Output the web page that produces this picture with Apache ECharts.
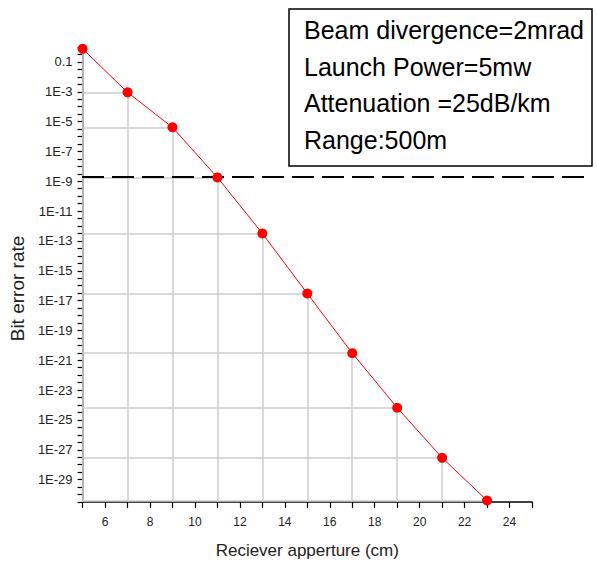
<!DOCTYPE html>
<html><head><meta charset="utf-8">
<script src="https://cdn.jsdelivr.net/npm/echarts@6/dist/echarts.min.js"></script>
<style>html,body{margin:0;padding:0;background:#fff}#c{width:597px;height:566px}</style>
</head><body><div id="c"></div>
<script>
// ---- data ----
const aperture = [5, 7, 9, 11, 13, 15, 17, 19, 21, 23];
const ber = [0.75, 9.1e-4, 4.1e-6, 1.8e-9, 3.2e-13, 3.0e-17, 3.0e-21, 6.6e-25, 2.9e-28, 4.0e-31];
const thresholdBER = 2e-9;
const xRange = [5, 25];
const yLogRange = [-30.5, 0];
const infoLines = ['Beam divergence=2mrad', 'Launch Power=5mw', 'Attenuation =25dB/km', 'Range:500m'];
const xTitle = 'Reciever apperture (cm)';
const yTitle = 'Bit error rate';

// ---- build ----
const FONT = 'Liberation Sans, Arial, sans-serif';
const logBer = ber.map(v => Math.log10(v));
const points = aperture.map((x, i) => [x, logBer[i]]);
const dropLines = [];
points.forEach(p => {
  dropLines.push([{ coord: [p[0], yLogRange[0]] }, { coord: [p[0], p[1]] }]);
  dropLines.push([{ coord: [xRange[0], p[1]] }, { coord: [p[0], p[1]] }]);
});

const chart = echarts.init(document.getElementById('c'), null, { renderer: 'svg' });
chart.setOption({
  animation: false,
  backgroundColor: '#fff',
  grid: [
    { left: 82, right: 65, top: 47, bottom: 64 },
    { left: 82, right: 11, top: 47, bottom: 64 }
  ],
  xAxis: [{
    type: 'value', gridIndex: 0, min: xRange[0], max: xRange[1], interval: 1,
    name: xTitle, nameLocation: 'middle', nameGap: 40,
    nameTextStyle: { fontFamily: FONT, fontSize: 17, color: '#222' },
    axisLine: { show: true, onZero: false, lineStyle: { color: '#000', width: 1.5 } },
    axisTick: { show: true, length: 6, lineStyle: { color: '#000', width: 1.2 } },
    axisLabel: { margin: 14, fontFamily: FONT, fontSize: 12, color: '#222',
      formatter: v => (Math.round(v) % 2 === 0 ? String(Math.round(v)) : '') },
    splitLine: { show: false }
  }, {
    type: 'value', gridIndex: 1, min: 0, max: 1, show: false,
    axisLine: { show: false, onZero: false }
  }],
  yAxis: [{
    type: 'value', gridIndex: 0, min: yLogRange[0], max: yLogRange[1], interval: 0.5,
    name: yTitle, nameLocation: 'middle', nameGap: 54, nameRotate: 90,
    nameTextStyle: { fontFamily: FONT, fontSize: 19, color: '#222', padding: [0, 28, 0, 0] },
    axisLine: { show: true, onZero: false, lineStyle: { color: '#333', width: 1.5 } },
    axisTick: { show: true, length: 5, lineStyle: { color: '#000', width: 1.2 } },
    axisLabel: { margin: 10, fontFamily: FONT, fontSize: 13, color: '#222',
      formatter: v => {
        if (Math.abs(v - Math.round(v)) > 1e-9) return '';
        const n = Math.round(v);
        if (n % 2 === 0) return '';
        return n === -1 ? '0.1' : '1E' + n;
      } },
    splitLine: { show: false }
  }, {
    type: 'value', gridIndex: 1, min: yLogRange[0], max: yLogRange[1], show: false,
    axisLine: { show: false, onZero: false }
  }],
  graphic: [{
    type: 'group',
    children: [{
      type: 'rect', shape: { x: 289, y: 9, width: 303, height: 157 },
      style: { fill: '#fff', stroke: '#000', lineWidth: 1.5 }
    }].concat(infoLines.map((t, i) => ({
      type: 'text', x: 304, y: 30 + i * 36.6,
      style: { text: t, fill: '#000', font: '25px ' + FONT, verticalAlign: 'middle' }
    })))
  }],
  series: [{
    type: 'line', xAxisIndex: 0, yAxisIndex: 0, data: [], z: 1, silent: true,
    markLine: {
      silent: true, symbol: 'none', animation: false,
      label: { show: false },
      lineStyle: { color: '#cccccc', width: 1.5, type: 'solid' },
      data: dropLines
    }
  }, {
    type: 'line', xAxisIndex: 1, yAxisIndex: 1, data: [], z: 2, silent: true,
    markLine: {
      silent: true, symbol: 'none', animation: false,
      label: { show: false },
      lineStyle: { color: '#000', width: 2, type: [22, 8] },
      data: [{ yAxis: Math.log10(thresholdBER) }]
    }
  }, {
    type: 'line', xAxisIndex: 0, yAxisIndex: 0, data: points, z: 5,
    symbol: 'circle', symbolSize: 10,
    lineStyle: { color: '#ff0000', width: 1 },
    itemStyle: { color: '#ff0000' },
    clip: true
  }]
});
</script></body></html>
